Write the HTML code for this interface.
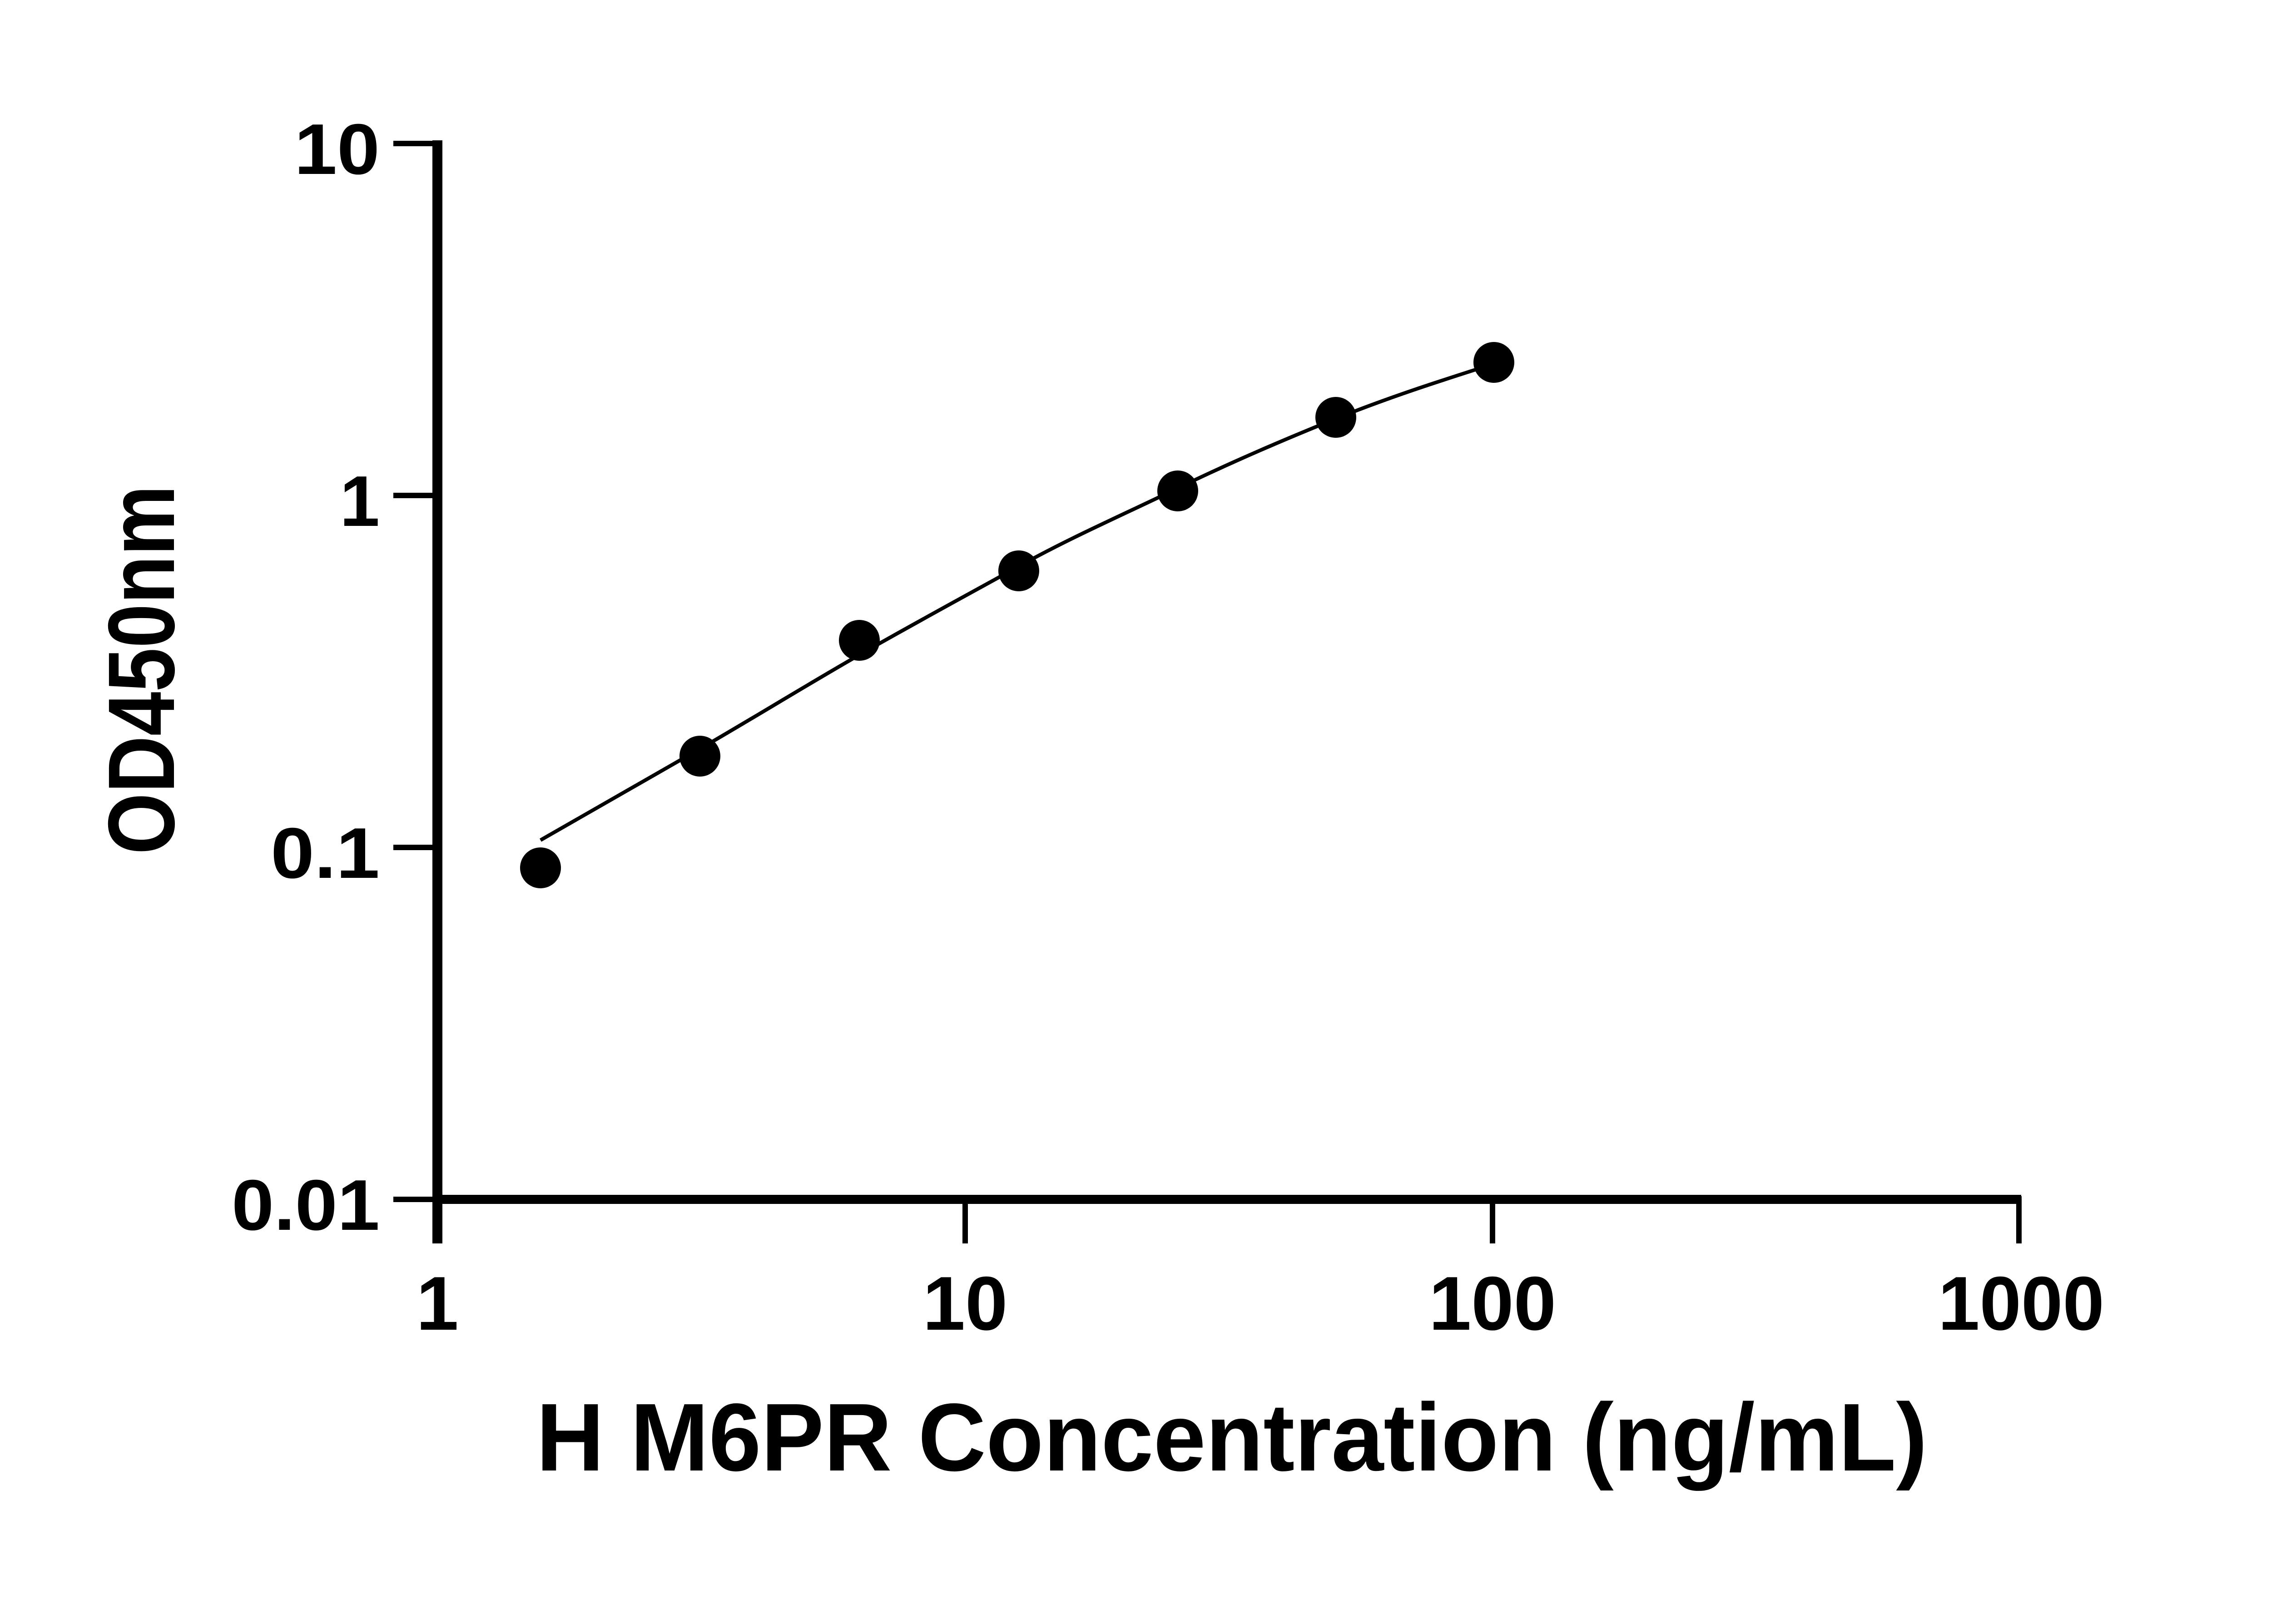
<!DOCTYPE html>
<html><head><meta charset="utf-8"><style>
html,body{margin:0;padding:0;background:#fff;}
svg{display:block;}
text{font-family:"Liberation Sans",sans-serif;font-weight:bold;fill:#000;}
</style></head><body>
<svg width="5170" height="3576" viewBox="0 0 5170 3576" xmlns="http://www.w3.org/2000/svg">
<line x1="963" y1="309" x2="963" y2="2738" stroke="#000" stroke-width="22"/>
<line x1="952" y1="2641" x2="4450" y2="2641" stroke="#000" stroke-width="20"/>
<g stroke="#000" stroke-width="12">
<line x1="866" y1="316" x2="963" y2="316"/>
<line x1="866" y1="1091" x2="963" y2="1091"/>
<line x1="866" y1="1866" x2="963" y2="1866"/>
<line x1="866" y1="2641" x2="963" y2="2641"/>
<line x1="2125" y1="2641" x2="2125" y2="2738"/>
<line x1="3286" y1="2641" x2="3286" y2="2738"/>
<line x1="4445" y1="2634" x2="4445" y2="2738"/>
</g>
<g font-size="158" text-anchor="end">
<text x="836" y="383" textLength="188" lengthAdjust="spacingAndGlyphs">10</text>
<text x="836" y="1158">1</text>
<text x="836" y="1933" textLength="240" lengthAdjust="spacingAndGlyphs">0.1</text>
<text x="836" y="2708" textLength="326" lengthAdjust="spacingAndGlyphs">0.01</text>
</g>
<g font-size="168" text-anchor="middle">
<text x="963" y="2928">1</text>
<text x="2125" y="2928">10</text>
<text x="3286" y="2928">100</text>
<text x="4450" y="2928" textLength="366" lengthAdjust="spacingAndGlyphs">1000</text>
</g>
<text x="2712" y="3238" font-size="212" text-anchor="middle" textLength="3063" lengthAdjust="spacingAndGlyphs">H M6PR Concentration (ng/mL)</text>
<text transform="translate(383,1475) rotate(-90)" font-size="208" text-anchor="middle" textLength="813" lengthAdjust="spacingAndGlyphs">OD450nm</text>
<path d="M1190,1850 C1308,1783 1425,1716 1541,1649 S1775,1509 1892,1442 S2126,1312 2243,1247 S2476,1132 2593,1075 S2825,969 2941,922 S3173,838 3289,801" fill="none" stroke="#000" stroke-width="8"/>
<g fill="#000">
<circle cx="1190" cy="1911" r="45"/>
<circle cx="1541" cy="1665" r="45"/>
<circle cx="1892" cy="1410" r="45"/>
<circle cx="2243" cy="1257" r="45"/>
<circle cx="2593" cy="1081" r="45"/>
<circle cx="2941" cy="919" r="45"/>
<circle cx="3289" cy="798" r="45"/>
</g>
</svg>
</body></html>
